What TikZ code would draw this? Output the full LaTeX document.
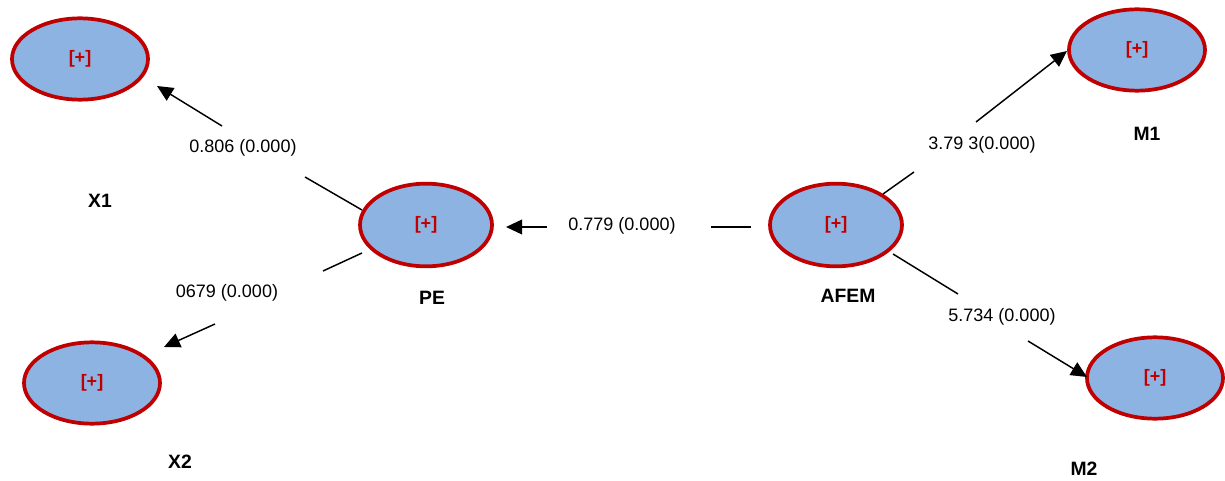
\documentclass[tikz,border=0pt]{standalone}
\usepackage{fontspec}
\setmainfont{Liberation Sans}
\usetikzlibrary{shapes.geometric,arrows.meta}
\definecolor{lvfill}{HTML}{8DB3E2}
\definecolor{lvred}{HTML}{C00000}
\tikzset{
  lv/.style={ellipse, draw=lvred, line width=2.8pt, fill=lvfill, inner sep=0pt,
    minimum width=102pt, minimum height=61pt, text=lvred,
    font=\fontsize{13.5}{15}\selectfont\bfseries},
  lvname/.style={inner sep=0pt, font=\fontsize{14.5}{16}\selectfont\bfseries},
  coef/.style={inner sep=0pt, font=\fontsize{13.5}{15}\selectfont},
  seg/.style={line width=1.1pt, black},
  arr/.style={seg, -{Triangle[length=12pt,width=11pt]}}
}
\begin{document}
\begin{tikzpicture}[x=0.75pt,y=-0.75pt]
\useasboundingbox (0,0) rectangle (1225,481);
% latent variables
\node[lv] (X1) at (80,59) {\raisebox{2pt}{[+]}};
\node[lv] (X2) at (92,383) {\raisebox{2pt}{[+]}};
\node[lv, minimum width=99pt, minimum height=62pt] (PE) at (426,225) {\raisebox{2pt}{[+]}};
\node[lv, minimum width=99pt, minimum height=62pt] (AFEM) at (836,225) {\raisebox{2pt}{[+]}};
\node[lv] (M1) at (1137,50) {\raisebox{2pt}{[+]}};
\node[lv] (M2) at (1155,378) {\raisebox{2pt}{[+]}};
% names
\node[lvname] (nX1) at (100,201) {X1};
\node[lvname] (nX2) at (180,462) {X2};
\node[lvname] (nPE) at (432,298) {PE};
\node[lvname] (nAFEM) at (848,296) {AFEM};
\node[lvname] (nM1) at (1147,134) {M1};
\node[lvname] (nM2) at (1084,469) {M2};
% coefficients
\node[coef] (cX1) at (243,148) {0.806 (0.000)};
\node[coef] (cX2) at (227,293) {0679 (0.000)};
\node[coef] (cPE) at (622,226) {0.779 (0.000)};
\node[coef] (cM1) at (982,145) {3.79 3(0.000)};
\node[coef] (cM2) at (1002,317) {5.734 (0.000)};
% connector break points
\coordinate (p1a) at (362,210); \coordinate (p1b) at (305,177);
\coordinate (p1c) at (222,126); \coordinate (p1d) at (157,86);
\coordinate (p2a) at (362,253); \coordinate (p2b) at (323,271);
\coordinate (p2c) at (215,324); \coordinate (p2d) at (164,347);
\coordinate (p3a) at (751,227); \coordinate (p3b) at (711,227);
\coordinate (p3c) at (547,227); \coordinate (p3d) at (506,227);
\coordinate (p4a) at (883,194); \coordinate (p4b) at (914,172);
\coordinate (p4c) at (976,122); \coordinate (p4d) at (1067,51);
\coordinate (p5a) at (893,254); \coordinate (p5b) at (958,294);
\coordinate (p5c) at (1028,341); \coordinate (p5d) at (1087,377);
% connectors
\draw[seg] (p1a) -- (p1b);
\draw[arr] (p1c) -- (p1d);
\draw[seg] (p2a) -- (p2b);
\draw[arr] (p2c) -- (p2d);
\draw[seg] (p3a) -- (p3b);
\draw[arr] (p3c) -- (p3d);
\draw[seg] (p4a) -- (p4b);
\draw[arr] (p4c) -- (p4d);
\draw[seg] (p5a) -- (p5b);
\draw[arr] (p5c) -- (p5d);
\end{tikzpicture}
\end{document}
